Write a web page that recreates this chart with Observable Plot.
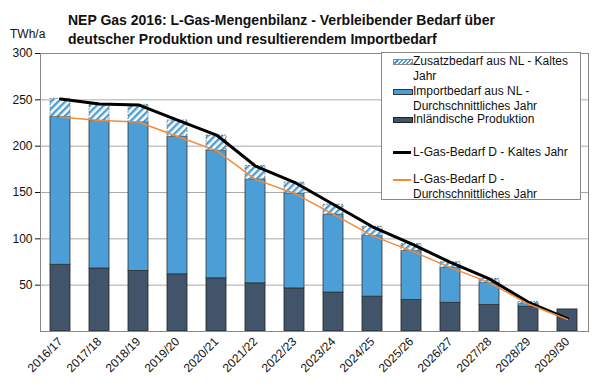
<!DOCTYPE html>
<html><head><meta charset="utf-8">
<script src="https://cdn.jsdelivr.net/npm/d3@7"></script>
<script src="https://cdn.jsdelivr.net/npm/@observablehq/plot@0.6"></script>
<style>
body{margin:0;background:#fff;font-family:"Liberation Sans",Arial,Helvetica,sans-serif;color:#111;}
#wrap{position:relative;width:600px;height:390px;overflow:hidden;}
#title{position:absolute;left:68px;top:11px;font-weight:bold;font-size:14px;line-height:18.5px;white-space:nowrap;}
#unit{position:absolute;left:10px;top:27px;font-size:12px;}
#chart{position:absolute;left:0;top:45px;}
#legend{position:absolute;left:381px;top:52px;width:200px;height:148px;border:1px solid #888;background:#fff;box-sizing:border-box;font-size:12px;line-height:14.5px;}
.item{position:absolute;left:0;}
.sw{position:absolute;left:11px;width:18px;}
.tx{position:absolute;left:31px;white-space:nowrap;}
</style>
</head><body>
<svg width="0" height="0" style="position:absolute">
  <defs>
    <pattern id="hatch" patternUnits="userSpaceOnUse" width="5" height="5" patternTransform="rotate(45)">
      <rect x="0" y="0" width="5" height="5" fill="#ffffff"></rect>
      <rect x="0" y="0" width="2.4" height="5" fill="#4b9fd6"></rect>
    </pattern>
  </defs>
</svg>
<div id="wrap">
  <div id="title">NEP Gas 2016: L-Gas-Mengenbilanz - Verbleibender Bedarf über<br>deutscher Produktion und resultierendem Importbedarf</div>
  <div id="unit">TWh/a</div>
  <div id="chart"></div>
  <div id="legend"></div>
</div>
<script>
const years = ["2016/17","2017/18","2018/19","2019/20","2020/21","2021/22","2022/23","2023/24","2024/25","2025/26","2026/27","2027/28","2028/29","2029/30"];
const produktion = [72, 68, 65.4, 61.7, 57.4, 52, 46.5, 42, 37.6, 34, 31, 28.6, 26.7, 23.8];
const import_avg = [159.6, 159.7, 160.5, 148.7, 137.8, 112.2, 102.5, 84.3, 65.6, 53, 37.9, 24.1, 2.9, 0];
const zusatz_kalt = [19.4, 17.3, 18.7, 17.3, 16.3, 14.4, 11.6, 10.5, 9.8, 7.4, 5.8, 4, 2.2, 0];
const bedarf_kalt = [251, 245.5, 244.5, 228, 212, 178.5, 161, 137, 113, 94.5, 74.7, 56.7, 31.5, 14];
const bedarf_avg = [231.6, 227.7, 226, 210.4, 195.2, 164.2, 149, 126.3, 103.2, 87, 68.9, 52.7, 29.6, 13];
const yTicks = [50, 100, 150, 200, 250, 300];
const gridVals = [50, 100, 150, 200, 250];
const legendLabels = ["Zusatzbedarf aus NL - Kaltes<br>Jahr", "Importbedarf aus NL -<br>Durchschnittliches Jahr", "Inländische Produktion", "L-Gas-Bedarf D - Kaltes Jahr", "L-Gas-Bedarf D -<br>Durchschnittliches Jahr"];

const C_DARK = "#41546a", C_BLUE = "#4b9fd6", C_ORANGE = "#f28a3c";

const rows = years.map((y, i) => {
  const p1 = produktion[i], p2 = p1 + import_avg[i], p3 = p2 + zusatz_kalt[i];
  return {year: y, p0: 0, p1, p2, p3, imp: import_avg[i], zus: zusatz_kalt[i], cold: bedarf_kalt[i], avg: bedarf_avg[i]};
});

const chart = Plot.plot({
  width: 600, height: 345,
  marginTop: 8, marginBottom: 59, marginLeft: 40, marginRight: 12,
  style: {fontFamily: "'Liberation Sans', Arial, sans-serif", fontSize: "12px", color: "#111", background: "white", overflow: "visible"},
  x: {type: "band", domain: years, paddingInner: 0.48, paddingOuter: 0.24, label: null, tickSize: 0, tickRotate: -45, tickPadding: 8},
  y: {domain: [0, 300], ticks: yTicks, label: null, tickSize: 5, tickPadding: 3},
  marks: [
    Plot.ruleY(gridVals, {stroke: "#aaa", strokeWidth: 1}),
    Plot.barY(rows, {x: "year", y1: "p0", y2: "p1", fill: C_DARK, stroke: "#222", strokeWidth: 0.8}),
    Plot.barY(rows, {filter: d => d.imp > 0, x: "year", y1: "p1", y2: "p2", fill: C_BLUE, stroke: "#333", strokeWidth: 0.8}),
    Plot.barY(rows, {filter: d => d.zus > 0, x: "year", y1: "p2", y2: "p3", fill: "url(#hatch)", stroke: "#777", strokeWidth: 0.8, strokeDasharray: "2,1"}),
    Plot.frame({stroke: "#888"}),
    Plot.lineY(rows, {x: "year", y: "cold", stroke: "#000", strokeWidth: 3}),
    Plot.lineY(rows, {x: "year", y: "avg", stroke: C_ORANGE, strokeWidth: 1.5})
  ]
});
document.getElementById("chart").appendChild(chart);

// legend
const lg = document.getElementById("legend");
const items = [
  {top: 1, sw: "hatch"},
  {top: 31, sw: "blue"},
  {top: 59, sw: "dark"},
  {top: 92, sw: "black"},
  {top: 119, sw: "orange"}
];
items.forEach((it, i) => {
  const d = document.createElement("div");
  d.className = "item";
  d.style.top = it.top + "px";
  const sw = document.createElement("div");
  sw.className = "sw";
  if (it.sw === "hatch") { sw.style.cssText += "top:5px;height:4px;border:1px solid #888;background:repeating-linear-gradient(-45deg,#4b9fd6 0 1.5px,#fff 1.5px 3px);"; }
  else if (it.sw === "blue") { sw.style.cssText += "top:5px;height:4px;border:1px solid #333;background:" + C_BLUE; }
  else if (it.sw === "dark") { sw.style.cssText += "top:5px;height:4px;border:1px solid #222;background:" + C_DARK; }
  else if (it.sw === "black") { sw.style.cssText += "top:6px;height:3px;background:#000"; }
  else { sw.style.cssText += "top:7px;height:1.5px;background:" + C_ORANGE; }
  const tx = document.createElement("div");
  tx.className = "tx";
  tx.innerHTML = legendLabels[i];
  d.appendChild(sw); d.appendChild(tx);
  lg.appendChild(d);
});
</script>
</body></html>
